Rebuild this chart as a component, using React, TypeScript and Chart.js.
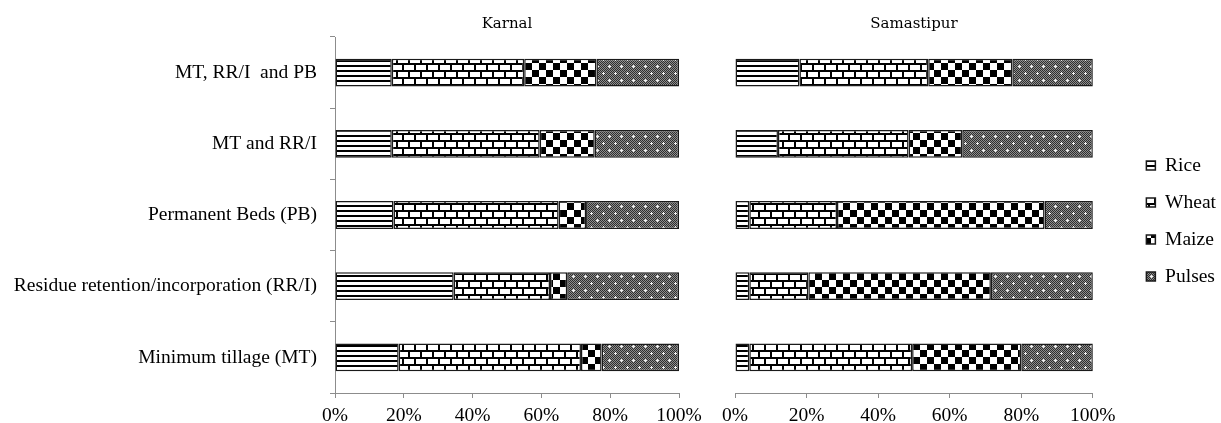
import React, { useEffect, useRef } from "react";
import { Chart, registerables } from "chart.js";

Chart.register(...registerables);

const categories = [
  "MT, RR/I  and PB",
  "MT and RR/I",
  "Permanent Beds (PB)",
  "Residue retention/incorporation (RR/I)",
  "Minimum tillage (MT)",
];
const seriesNames = ["Rice", "Wheat", "Maize", "Pulses"];

const karnalRice = [16.5, 16.5, 17, 34.5, 18.5];
const karnalWheat = [38.5, 43, 48, 28, 53];
const karnalMaize = [21, 16, 8, 5, 6];
const karnalPulses = [24, 24.5, 27, 32.5, 22.5];

const samRice = [18, 12, 4, 4, 4];
const samWheat = [36, 36.5, 24.5, 16.5, 45.5];
const samMaize = [23.5, 15, 58, 51, 30.5];
const samPulses = [22.5, 36.5, 13.5, 28.5, 20];

const xTickValues = [0, 20, 40, 60, 80, 100];
const panelTitles = ["Karnal", "Samastipur"];

const SERIF = "'Liberation Serif', 'Times New Roman', serif";
const FS = 19.5;

function makePattern(kind: string): CanvasPattern | string {
  const c = document.createElement("canvas");
  let w = 12;
  let h = 12;
  if (kind === "rice") { w = 6; h = 5; }
  if (kind === "wheat") { w = 12; h = 14; }
  if (kind === "maize") { w = 14; h = 14; }
  if (kind === "pulses") { w = 12; h = 14; }
  c.width = w;
  c.height = h;
  const ctx = c.getContext("2d");
  if (!ctx) return "#888";
  ctx.fillStyle = "#fff";
  ctx.fillRect(0, 0, w, h);
  ctx.fillStyle = "#000";
  if (kind === "rice") {
    ctx.fillRect(0, 0, w, 2);
  } else if (kind === "wheat") {
    ctx.fillRect(0, 0, 12, 2);
    ctx.fillRect(0, 7, 12, 2);
    ctx.fillRect(0, 2, 2, 5);
    ctx.fillRect(6, 9, 2, 5);
  } else if (kind === "maize") {
    ctx.fillRect(0, 0, 7, 7);
    ctx.fillRect(7, 7, 7, 7);
  } else if (kind === "pulses") {
    for (let y = 0; y < h; y++) {
      for (let x = 0; x < w; x++) {
        ctx.fillStyle = (x + y) % 2 === 0 ? "#2e2e2e" : "#8e8e8e";
        ctx.fillRect(x, y, 1, 1);
      }
    }
    ctx.fillStyle = "#f0f0f0";
    const plus = (px: number, py: number) => {
      ctx.fillRect(px, py - 1, 1, 3);
      ctx.fillRect(px - 1, py, 3, 1);
    };
    plus(3, 3);
    plus(9, 10);
  }
  return ctx.createPattern(c, "repeat") || "#888";
}

const legendShift = {
  id: "legendShift",
  afterLayout(chart: any) {
    const l = chart.legend;
    if (!l || !l.options.display) return;
    const dx = 36;
    const dy = 6;
    l.left += dx;
    l.right += dx;
    l.top += dy;
    l.bottom += dy;
  },
};

function buildConfig(
  title: string,
  values: number[][],
  patterns: (CanvasPattern | string)[],
  isLeft: boolean
): any {
  return {
    type: "bar",
    data: {
      labels: categories,
      datasets: seriesNames.map((name, i) => ({
        label: name,
        data: values[i],
        backgroundColor: patterns[i],
        borderColor: "#1a1a1a",
        borderWidth: 1.5,
        borderSkipped: false,
        categoryPercentage: 1,
        barPercentage: 0.39,
      })),
    },
    options: {
      indexAxis: "y",
      responsive: false,
      animation: false,
      devicePixelRatio: 1,
      events: [],
      layout: {
        padding: isLeft
          ? { left: 0, right: 31, top: 0, bottom: 0 }
          : { left: 25, right: 31, top: 0, bottom: 0 },
      },
      plugins: {
        tooltip: { enabled: false },
        title: {
          display: true,
          text: title,
          fullSize: false,
          color: "#000",
          font: { family: "'DejaVu Serif', serif", size: 15, weight: "normal" },
          padding: { top: 15, bottom: 4 },
        },
        legend: isLeft
          ? { display: false }
          : {
              display: true,
              position: "right",
              fullSize: false,
              align: "center",
              labels: {
                boxWidth: 9,
                boxHeight: 9,
                padding: 17.5,
                color: "#000",
                font: { family: SERIF, size: FS },
              },
            },
      },
      scales: {
        x: {
          stacked: true,
          min: 0,
          max: 100,
          afterBuildTicks: (s: any) => {
            s.ticks = xTickValues.map((v) => ({ value: v }));
          },
          afterFit: (s: any) => {
            s.height = 30;
          },
          grid: {
            display: true,
            drawOnChartArea: false,
            drawTicks: true,
            tickLength: 5,
            color: "#8c8c8c",
            lineWidth: 1,
          },
          border: { display: true, color: "#8c8c8c", width: 1 },
          ticks: {
            color: "#000",
            padding: 6,
            maxRotation: 0,
            autoSkip: false,
            font: { family: SERIF, size: FS },
            callback: (v: any) => v + "%",
          },
        },
        y: {
          stacked: true,
          display: isLeft,
          afterFit: (s: any) => {
            s.width = isLeft ? 335 : 0;
          },
          grid: {
            display: true,
            offset: true,
            drawOnChartArea: false,
            drawTicks: true,
            tickLength: 5,
            color: "#8c8c8c",
            lineWidth: 1,
          },
          border: { display: true, color: "#8c8c8c", width: 1 },
          ticks: {
            color: "#000",
            padding: 13,
            autoSkip: false,
            font: { family: SERIF, size: FS },
          },
        },
      },
    },
    plugins: isLeft ? [] : [legendShift],
  };
}

export default function App() {
  const leftRef = useRef<HTMLCanvasElement | null>(null);
  const rightRef = useRef<HTMLCanvasElement | null>(null);

  useEffect(() => {
    const patterns = [
      makePattern("rice"),
      makePattern("wheat"),
      makePattern("maize"),
      makePattern("pulses"),
    ];
    const charts: Chart[] = [];
    if (leftRef.current) {
      charts.push(
        new Chart(
          leftRef.current,
          buildConfig(
            panelTitles[0],
            [karnalRice, karnalWheat, karnalMaize, karnalPulses],
            patterns,
            true
          )
        )
      );
    }
    if (rightRef.current) {
      charts.push(
        new Chart(
          rightRef.current,
          buildConfig(
            panelTitles[1],
            [samRice, samWheat, samMaize, samPulses],
            patterns,
            false
          )
        )
      );
    }
    return () => {
      charts.forEach((c) => c.destroy());
    };
  }, []);

  return (
    <div
      style={{
        position: "absolute",
        left: 0,
        top: 0,
        width: 1221,
        height: 423,
        background: "#fff",
        overflow: "hidden",
      }}
    >
      <canvas
        ref={leftRef}
        width={710}
        height={423}
        style={{ position: "absolute", left: 0, top: 0, width: 710, height: 423 }}
      />
      <canvas
        ref={rightRef}
        width={511}
        height={423}
        style={{ position: "absolute", left: 710, top: 0, width: 511, height: 423 }}
      />
    </div>
  );
}
